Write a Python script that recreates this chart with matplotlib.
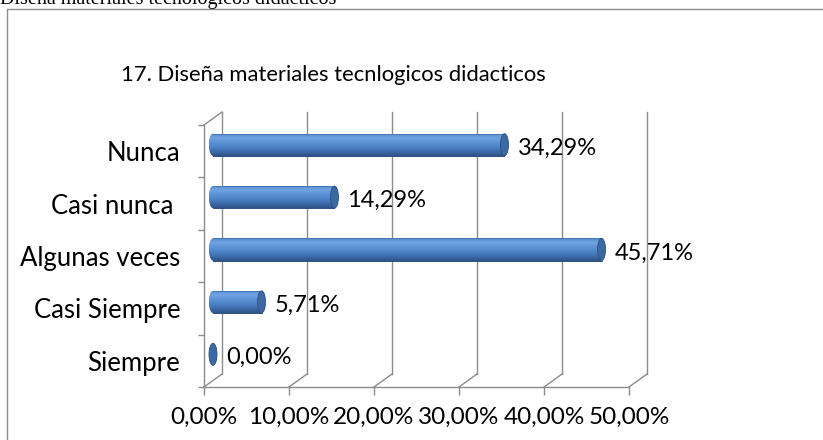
import numpy as np
import matplotlib.pyplot as plt
from matplotlib.patches import Ellipse, Rectangle
from matplotlib.colors import LinearSegmentedColormap
from matplotlib.transforms import blended_transform_factory

# Datos del grafico (pregunta 17)
categorias = ['Siempre', 'Casi Siempre', 'Algunas veces', 'Casi nunca ', 'Nunca']
porcentajes = [0.0, 5.71, 45.71, 14.29, 34.29]
ticks_x = [0, 10, 20, 30, 40, 50]

titulo = '17. Diseña materiales tecnlogicos didacticos'
leyenda_doc = 'Diseña materiales tecnologicos didacticos'

plt.rcParams['font.family'] = ['Lato', 'DejaVu Sans']

W, H = 823, 440
fig = plt.figure(figsize=(W / 100, H / 100), dpi=100)

# area frontal del grafico (en pixeles de la figura)
x0, x1, y_top, y_bot = 204, 629, 125, 387
ax = fig.add_axes([x0 / W, 1 - y_bot / H, (x1 - x0) / W, (y_bot - y_top) / H])
ax.patch.set_alpha(0)

xmax = ticks_x[-1]
n = len(categorias)
ax.set_xlim(0, xmax)
ax.set_ylim(-0.5, n - 0.5)

# profundidad del efecto 3D en pixeles -> unidades de datos / ejes
depth_px = (18, 13)
dx = depth_px[0] * xmax / (x1 - x0)
dy_ax = depth_px[1] / (y_bot - y_top)
dy = dy_ax * n

gris = '#8c8c8c'
lw = 1.0
back = blended_transform_factory(ax.transData, ax.transAxes)

# pared del fondo (lineas de division) y suelo
for t in ticks_x:
    ax.plot([t + dx, t + dx], [dy_ax, 1 + dy_ax], color=gris, lw=lw,
            transform=back, clip_on=False, zorder=1)
    ax.plot([t, t + dx], [0, dy_ax], color=gris, lw=lw,
            transform=back, clip_on=False, zorder=1)
# arista superior izquierda
ax.plot([0, dx], [1, 1 + dy_ax], color=gris, lw=lw,
        transform=back, clip_on=False, zorder=1)

# barras cilindricas
ypos = np.arange(n)
bar_h = 0.42
bx = dx / 2
by = dy / 2
cap_w = 8 * xmax / (x1 - x0)
grad = LinearSegmentedColormap.from_list(
    'cil', ['#2e5487', '#3d6cab', '#4d83c7', '#5c93d6', '#70a3e0', '#548bcc'])
gimg = np.linspace(0, 1, 64).reshape(-1, 1)

for y, v in zip(ypos, porcentajes):
    yc = y + by
    if v > 0:
        bars = ax.barh(yc, v, left=bx, height=bar_h, color='#4f81bd',
                       edgecolor='none', zorder=3)
        patch = bars[0]
        left_cap = Ellipse((bx, yc), cap_w, bar_h, facecolor='#4f81bd',
                           edgecolor='none', zorder=3)
        ax.add_patch(left_cap)
        for p in (patch, left_cap):
            im = ax.imshow(gimg, cmap=grad, aspect='auto', zorder=3.5,
                           extent=[bx - cap_w, bx + v, yc - bar_h / 2, yc + bar_h / 2],
                           origin='lower', interpolation='bilinear')
            im.set_clip_path(p)
        ax.plot([bx, bx + v], [yc + bar_h / 2, yc + bar_h / 2], color='#4477b8',
                lw=0.7, zorder=4)
        ax.plot([bx, bx + v], [yc - bar_h / 2, yc - bar_h / 2], color='#2c4f7f',
                lw=0.7, zorder=4)
    ax.add_patch(Ellipse((bx + v, yc), cap_w, bar_h, facecolor='#3d69a3',
                         edgecolor='#2c4f7f', lw=0.6, zorder=5))
    # etiqueta de datos
    ax.annotate(f'{v:.2f}%'.replace('.', ','), xy=(v, y), xytext=(22, 3),
                textcoords='offset pixels', ha='left', va='center',
                fontsize=17, color='black', annotation_clip=False, zorder=6)

# ejes
for s in ['top', 'right']:
    ax.spines[s].set_visible(False)
for s in ['left', 'bottom']:
    ax.spines[s].set_color(gris)
    ax.spines[s].set_linewidth(lw)

ax.set_xticks(ticks_x)
ax.set_xticklabels([f'{t:.2f}%'.replace('.', ',') for t in ticks_x], fontsize=17.5)
ax.tick_params(axis='x', length=6, width=lw, color=gris, pad=8)

ax.set_yticks(np.arange(n + 1) - 0.5)
ax.set_yticklabels([])
ax.tick_params(axis='y', which='major', length=4.5, width=lw, color=gris)
ax.set_yticks(ypos, minor=True)
ax.set_yticklabels(categorias, minor=True, fontsize=18.5)
ax.tick_params(axis='y', which='minor', length=0, pad=17)

# titulo del grafico
fig.text(333 / W, 1 - 75 / H, titulo, ha='center', va='center', fontsize=15.8)

# marco del grafico
fig.add_artist(Rectangle((6.5 / W, -0.1), 1.2, (H - 9.5) / H + 0.1,
                         transform=fig.transFigure, fill=False,
                         edgecolor='#8c8c8c', lw=1.0))

# pie del documento (cortado en la parte superior)
fig.text(0, 1 - 4 / H, leyenda_doc, ha='left', va='baseline',
         fontsize=14.5, family='Liberation Serif')

fig.savefig('out.png', dpi=100)
